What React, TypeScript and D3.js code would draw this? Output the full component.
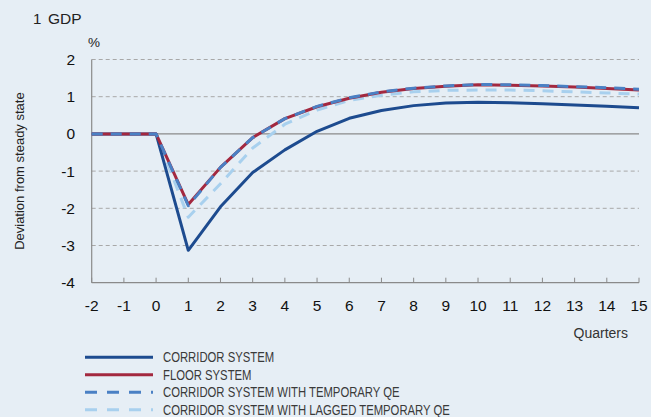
import React from "react";
import * as d3 from "d3";

const quarters = [-2, -1, 0, 1, 2, 3, 4, 5, 6, 7, 8, 9, 10, 11, 12, 13, 14, 15];
const corridor = [0, 0, 0, -3.13, -1.96, -1.04, -0.43, 0.07, 0.42, 0.63, 0.76, 0.83, 0.85, 0.84, 0.81, 0.78, 0.74, 0.70];
const floorSys = [0, 0, 0, -1.9, -0.9, -0.1, 0.41, 0.73, 0.96, 1.12, 1.22, 1.28, 1.32, 1.31, 1.29, 1.26, 1.22, 1.18];
const tempQE = [0, 0, 0, -1.93, -0.9, -0.1, 0.41, 0.74, 0.97, 1.13, 1.23, 1.29, 1.33, 1.32, 1.30, 1.27, 1.24, 1.20];
const laggedQE = [0, 0, 0, -2.24, -1.34, -0.38, 0.26, 0.64, 0.9, 1.04, 1.13, 1.17, 1.18, 1.18, 1.16, 1.13, 1.10, 1.07];
const yTicks = [2, 1, 0, -1, -2, -3, -4];

const seriesNames = [
  "CORRIDOR SYSTEM",
  "FLOOR SYSTEM",
  "CORRIDOR SYSTEM WITH TEMPORARY QE",
  "CORRIDOR SYSTEM WITH LAGGED TEMPORARY QE",
];
const seriesData = [corridor, floorSys, tempQE, laggedQE];
const seriesColors = ["#1d4b8f", "#a3283f", "#4a80c4", "#a8d0ee"];
const seriesDash = ["", "", "11 8", "11 8"];
// draw order: lagged, corridor, floor, tempQE
const drawOrder = [3, 0, 1, 2];

export default function App() {
  const W = 651, H = 417;
  const x = d3.scaleLinear().domain([-2, 15]).range([91.7, 639]);
  const y = d3.scaleLinear().domain([-4, 2]).range([282.7, 59.5]);
  const line = (vals: number[]) =>
    d3.line<number>().x((_, i) => x(quarters[i])).y((v) => y(v))(vals) || "";
  const font = "'Liberation Sans', Arial, sans-serif";

  return (
    <svg width={W} height={H} style={{ position: "absolute", left: 0, top: 0, background: "#e6eef5" }}>
      <rect x={0} y={0} width={W} height={H} fill="#e6eef5" />
      <text x={33} y={24} fontFamily={font} fontSize={15} fill="#222">1</text>
      <text x={48} y={24} fontFamily={font} fontSize={15.5} fill="#222">GDP</text>
      <text x={88} y={47} fontFamily={font} fontSize={13.5} fill="#222">%</text>
      <text
        transform={`translate(24,${(59.5 + 282.7) / 2}) rotate(-90)`}
        textAnchor="middle"
        fontFamily={font}
        fontSize={13}
        fill="#222"
      >
        Deviation from steady state
      </text>
      {yTicks.map((t) => (
        <g key={t}>
          {t !== 0 && t !== -4 && (
            <line x1={x(-2)} x2={x(15)} y1={y(t)} y2={y(t)} stroke="#a8a8a8" strokeWidth={1} strokeDasharray="4 3" />
          )}
          <text x={75} y={y(t) + 5.5} textAnchor="end" fontFamily={font} fontSize={15.5} fill="#111">
            {t}
          </text>
        </g>
      ))}
      <line x1={x(-2)} x2={x(15)} y1={y(0)} y2={y(0)} stroke="#8a8a8a" strokeWidth={1.2} />
      <line x1={x(-2)} x2={x(-2)} y1={y(2)} y2={y(-4)} stroke="#8a8a8a" strokeWidth={1.2} />
      <line x1={x(-2)} x2={x(15)} y1={y(-4)} y2={y(-4)} stroke="#8a8a8a" strokeWidth={1.2} />
      {quarters.map((q) => (
        <g key={q}>
          <line x1={x(q)} x2={x(q)} y1={y(-4)} y2={y(-4) - 5} stroke="#8a8a8a" strokeWidth={1} />
          <text x={x(q)} y={y(-4) + 28} textAnchor="middle" fontFamily={font} fontSize={15.5} fill="#111">
            {q}
          </text>
        </g>
      ))}
      <text x={628} y={338} textAnchor="end" fontFamily={font} fontSize={14} fill="#333">Quarters</text>
      {drawOrder.map((i) => (
        <path
          key={i}
          d={line(seriesData[i])}
          fill="none"
          stroke={seriesColors[i]}
          strokeWidth={3}
          strokeDasharray={seriesDash[i] || undefined}
          strokeLinejoin="round"
        />
      ))}
      {seriesNames.map((n, i) => {
        const ly = 357.2 + i * 17.5;
        return (
          <g key={n}>
            <line x1={85} x2={153} y1={ly} y2={ly} stroke={seriesColors[i]} strokeWidth={3}
              strokeDasharray={seriesDash[i] ? "12 10" : undefined} />
            <text transform={`translate(163,${ly + 5}) scale(0.73,1)`} fontFamily={font} fontSize={15.5} fill="#3a3a3a">{n}</text>
          </g>
        );
      })}
    </svg>
  );
}
